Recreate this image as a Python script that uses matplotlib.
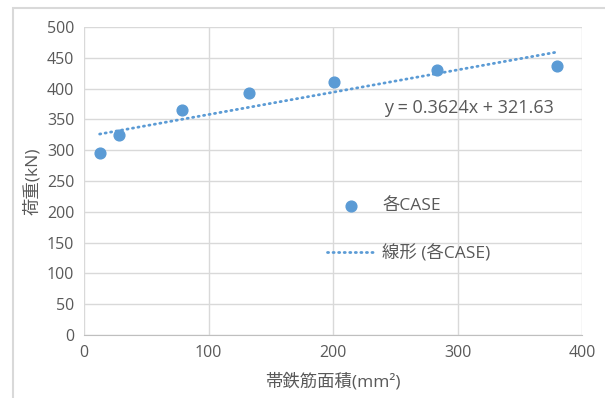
import numpy as np
import matplotlib.pyplot as plt
from matplotlib.patches import Rectangle

plt.rcParams['font.family'] = ['Open Sans', 'Noto Sans CJK JP', 'DejaVu Sans']

# hoop area per case (mm2) and load (kN)
area = [12.57, 28.27, 78.54, 132.7, 201.1, 283.5, 380.1]
load = [296, 324, 366, 393, 410, 430, 437]
slope = 0.3624
intercept = 321.63

blue = '#5B9BD5'
grid_c = '#D9D9D9'
text_c = '#595959'

fig = plt.figure(figsize=(6.05, 3.98), dpi=100)
ax = fig.add_axes([84/605, 1-335/398, (582-84)/605, (335-27)/398])

# chart frame
fig.patches.append(Rectangle((13/605, -0.2), 1.2, 1-8/398+0.2, transform=fig.transFigure,
                             fill=False, edgecolor=grid_c, linewidth=1.5))

ax.scatter(area, load, s=60, color=blue, zorder=3, label='各CASE')
xs = np.array([min(area), max(area)])
ax.plot(xs, slope*xs + intercept, color=blue, linestyle=(0, (0.4, 1.6)), linewidth=2.0,
        dash_capstyle='round', zorder=2, label='線形 (各CASE)')

ax.set_xlim(0, 400)
ax.set_ylim(0, 500)
ax.set_xticks(np.arange(0, 401, 100))
ax.set_yticks(np.arange(0, 501, 50))
ax.grid(True, color=grid_c, linewidth=1)
ax.set_axisbelow(True)
for s in ['top', 'right', 'left']:
    ax.spines[s].set_visible(False)
ax.spines['bottom'].set_color('#BFBFBF')
ax.tick_params(length=0, colors=text_c, labelsize=11.5, pad=7)

ax.set_xlabel('帯鉄筋面積(mm²)', color=text_c, fontsize=12.5)
ax.xaxis.set_label_coords(0.5, -0.124)
ax.set_ylabel('荷重(kN)', color=text_c, fontsize=12.5)
ax.yaxis.set_label_coords(-0.086, 0.5)

ax.text(0.602, 0.737, 'y = 0.3624x + 321.63', transform=ax.transAxes, color=text_c,
        fontsize=13, va='center')

leg = ax.legend(loc='center left', bbox_to_anchor=(0.456, 0.34), frameon=False,
                fontsize=12.5, labelcolor=text_c, labelspacing=1.75, handlelength=2.8,
                handletextpad=0.4)

fig.savefig('out.png', dpi=100)
